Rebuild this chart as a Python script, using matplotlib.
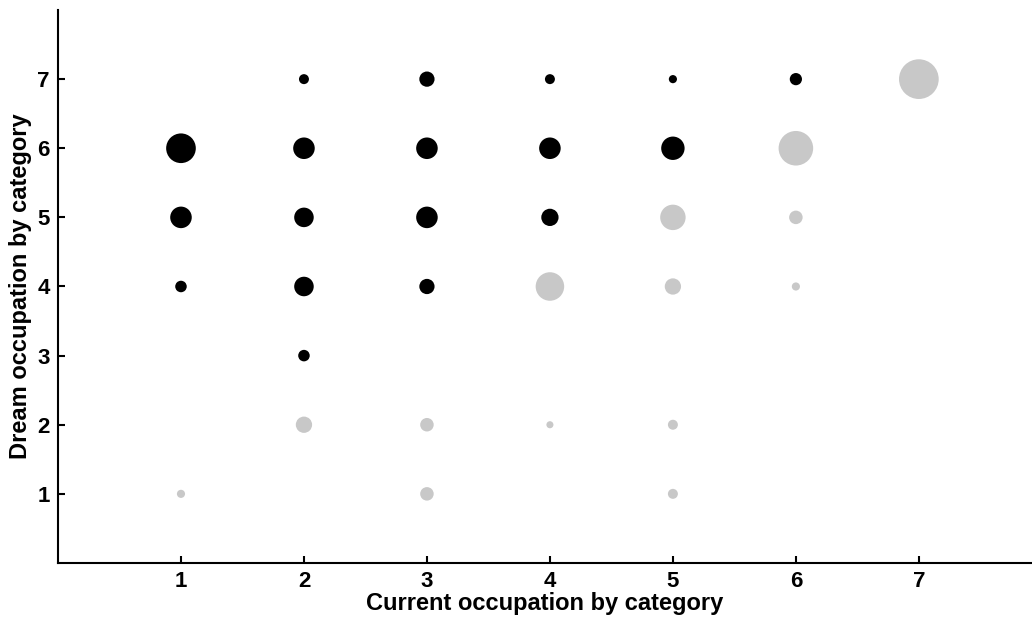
import matplotlib
matplotlib.use("Agg")
import matplotlib.pyplot as plt

# Data: current occupation category (x), dream occupation category (y), relative count (marker area)
current = [1, 1, 1, 1,
           2, 2, 2, 2, 2, 2,
           3, 3, 3, 3, 3, 3,
           4, 4, 4, 4, 4,
           5, 5, 5, 5, 5, 5,
           6, 6, 6, 6,
           7]
dream = [6, 5, 4, 1,
         7, 6, 5, 4, 3, 2,
         7, 6, 5, 4, 2, 1,
         7, 6, 5, 4, 2,
         7, 6, 5, 4, 2, 1,
         7, 6, 5, 4,
         7]
counts = [53, 28, 8, 4,
          6, 28, 23, 23, 8, 16,
          14, 28, 28, 14, 11, 11,
          6, 28, 18, 49, 3,
          4, 33, 39, 16, 6, 6,
          9, 72, 11, 4,
          95]
ticks = [1, 2, 3, 4, 5, 6, 7]

plt.rcParams['font.family'] = ['Liberation Sans', 'DejaVu Sans']
fig = plt.figure(figsize=(10.32, 6.22), dpi=100)
ax = fig.add_axes([0.0562, 0.0949, 0.9438, 0.889])

colors = ['black' if d > c else '#c8c8c8' for c, d in zip(current, dream)]
sizes = [n * 8.6 for n in counts]
ax.scatter(current, dream, s=sizes, c=colors, edgecolors='none', zorder=3)

ax.set_xlim(0, 7.92)
ax.set_ylim(0, 8)
ax.set_xticks(ticks)
ax.set_yticks(ticks)
ax.spines['top'].set_visible(False)
ax.spines['right'].set_visible(False)
for s in ['left', 'bottom']:
    ax.spines[s].set_linewidth(1.5)
ax.tick_params(direction='in', length=5, width=1.5, labelsize=16, pad=6)
for lab in ax.get_xticklabels() + ax.get_yticklabels():
    lab.set_fontweight('bold')
ax.set_xlabel('Current occupation by category', fontsize=17, fontweight='bold', labelpad=0)
ax.set_ylabel('Dream occupation by category', fontsize=17, fontweight='bold', labelpad=4)

fig.savefig('out.png', dpi=100)
